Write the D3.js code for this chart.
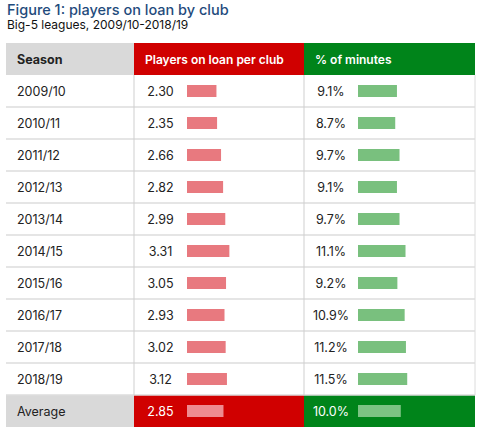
<!DOCTYPE html>
<html><head><meta charset="utf-8">
<script src="https://cdn.jsdelivr.net/npm/d3@7"></script>
<style>
html,body{margin:0;padding:0;background:#fff;}
svg{display:block;font-family:Inter, "Open Sans", sans-serif;}
</style></head>
<body>
<svg id="c" width="480" height="433"></svg>
<script>
const seasons = ["2009/10","2010/11","2011/12","2012/13","2013/14","2014/15","2015/16","2016/17","2017/18","2018/19"];
const loanPerClub = [2.30,2.35,2.66,2.82,2.99,3.31,3.05,2.93,3.02,3.12];
const pctMinutes = [9.1,8.7,9.7,9.1,9.7,11.1,9.2,10.9,11.2,11.5];
const avgLabel = "Average";
const avgLoan = 2.85;
const avgPct = 10.0;
const headers = ["Season","Players on loan per club","% of minutes"];

const svg = d3.select("#c");
const L = 6, R = 475, C1 = 134, C2 = 304;
const top0 = 43, rowH = 32;
const rows = ["__h", ...seasons, "__avg"];
const y = d3.scaleBand().domain(rows).range([top0, top0 + rowH*rows.length]).padding(0);
const xLoan = d3.scaleLinear().domain([0, 1]).range([0, 12.8]);
const xPct = d3.scaleLinear().domain([0, 1]).range([0, 4.28]);
const barLoanX = 187, barPctX = 358, barH = 12;

svg.append("text").attr("x",7).attr("y",15).attr("fill","#1f4b7c")
  .attr("font-size",14.5).attr("font-weight",500).text("Figure 1: players on loan by club");
svg.append("text").attr("x",7).attr("y",29).attr("fill","#111")
  .attr("font-size",12).text("Big-5 leagues, 2009/10-2018/19");

// header + avg backgrounds
const bgRows = [["__h"],["__avg"]];
bgRows.forEach(([r])=>{
  svg.append("rect").attr("x",L).attr("y",y(r)).attr("width",C1-L).attr("height",y.bandwidth()).attr("fill","#d9d9d9");
  svg.append("rect").attr("x",C1).attr("y",y(r)).attr("width",C2-C1).attr("height",y.bandwidth()).attr("fill","#d00000");
  svg.append("rect").attr("x",C2).attr("y",y(r)).attr("width",R-C2).attr("height",y.bandwidth()).attr("fill","#00841a");
});

// grid lines
const gridCol = "#dcdcdc";
seasons.forEach((s,i)=>{
  svg.append("line").attr("x1",L).attr("x2",R).attr("y1",y(s)+y.bandwidth()).attr("y2",y(s)+y.bandwidth())
    .attr("stroke",gridCol).attr("stroke-width",1.5);
});
[C1,C2].forEach(cx=>{
  svg.append("line").attr("x1",cx).attr("x2",cx).attr("y1",y(seasons[0])).attr("y2",y("__avg"))
    .attr("stroke","#cfcfcf").attr("stroke-width",1);
});
svg.append("line").attr("x1",R).attr("x2",R).attr("y1",y(seasons[0])).attr("y2",y("__avg"))
  .attr("stroke",gridCol).attr("stroke-width",1);

// headers
const hy = y("__h") + y.bandwidth()/2 + 4.5;
svg.append("text").attr("x",17).attr("y",hy).attr("font-size",12.5).attr("font-weight",700).attr("fill","#222").text(headers[0]);
svg.append("text").attr("x",145).attr("y",hy).attr("font-size",12).attr("font-weight",600).attr("fill","#fff").text(headers[1]);
svg.append("text").attr("x",315).attr("y",hy).attr("font-size",12).attr("font-weight",600).attr("fill","#fff").text(headers[2]);

// data rows
const data = seasons.map((s,i)=>({s, loan: loanPerClub[i], pct: pctMinutes[i], avg:false}));
data.push({s:"__avg", label: avgLabel, loan: avgLoan, pct: avgPct, avg:true});

const g = svg.selectAll("g.row").data(data).join("g").attr("class","row")
  .attr("transform", d=>`translate(0,${y(d.s)})`);
const cy = y.bandwidth()/2;
g.append("text").attr("x",17).attr("y",cy+4.5).attr("font-size",12.5).attr("fill","#222")
  .text(d=>d.avg ? d.label : d.s);
g.append("text").attr("x",160.5).attr("y",cy+4.5).attr("font-size",12.5).attr("text-anchor","middle")
  .attr("fill",d=>d.avg?"#fff":"#222").text(d=>d.loan.toFixed(2));
g.append("rect").attr("x",barLoanX).attr("y",cy-barH/2).attr("height",barH)
  .attr("width",d=>xLoan(d.loan)).attr("fill",d=>d.avg?"#ee8b90":"#e8797f");
g.append("text").attr("x",331).attr("y",cy+4.5).attr("font-size",12.5).attr("text-anchor","middle")
  .attr("fill",d=>d.avg?"#fff":"#222").text(d=>d.pct.toFixed(1)+"%");
g.append("rect").attr("x",barPctX).attr("y",cy-barH/2).attr("height",barH)
  .attr("width",d=>xPct(d.pct)).attr("fill",d=>d.avg?"#7cc383":"#79c07e");
</script>
</body></html>
